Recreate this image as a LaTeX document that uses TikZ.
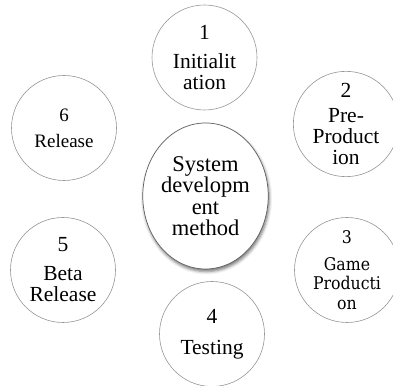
\documentclass[tikz,border=0pt]{standalone}
\usepackage{fontspec}
\setmainfont{Liberation Serif}
\newfontfamily\gameFont{DejaVu Serif Condensed}
\usepackage{tikz}
\usetikzlibrary{shapes.geometric, shadows.blur}
\definecolor{themeGrey}{RGB}{150, 150, 150}
\definecolor{themeDark}{RGB}{95, 95, 95}
\newcommand{\lInit}{1\\[8pt]Initialit\\ation}
\newcommand{\lPre}{2\\[4pt]Pre-\\Product\\ion}
\newcommand{\lGame}{3\\[7pt]Game\\Producti\\on}
\newcommand{\lTest}{4\\[10pt]Testing}
\newcommand{\lBeta}{5\\[8pt]Beta\\Release}
\newcommand{\lRelease}{6\\[6pt]Release}
\newcommand{\lMethod}{System\\developm\\ent\\method}

\begin{document}
\begin{tikzpicture} [
        x=1pt, y=1pt,
        phase/.style={draw=themeGrey, line width=0.6pt, circle, minimum size=105pt, inner sep=0pt, align=center, font=\fontsize{21.5}{21}\selectfont},
        phase small/.style={phase, font=\fontsize{19}{20}\selectfont},
        phase game/.style={phase, font=\gameFont\fontsize{17.5}{19.5}\selectfont},
        core/.style={draw=themeDark, line width=0.7pt, ellipse, minimum width=125pt, minimum height=146pt, inner sep=0pt, align=center, fill=white, font=\fontsize{22.5}{21.5}\selectfont,
            blur shadow={shadow xshift=1pt, shadow yshift=-2.5pt, shadow blur radius=3pt, shadow opacity=55}}
    ]

    \useasboundingbox (0, 0) rectangle (393, 385);

    \draw (205.5, 189) node[core] (method) {\lMethod};
    \draw (204.5, 327.5) node[phase] (init) {\lInit};
    \draw (346, 261) node[phase, minimum size=102pt] (pre) {\lPre};
    \draw (347, 115) node[phase game] (game) {\lGame};
    \draw (212, 51) node[phase] (test) {\lTest};
    \draw (63, 115) node[phase] (beta) {\lBeta};
    \draw (64, 257) node[phase small] (release) {\lRelease};

\end{tikzpicture}
\end{document}
